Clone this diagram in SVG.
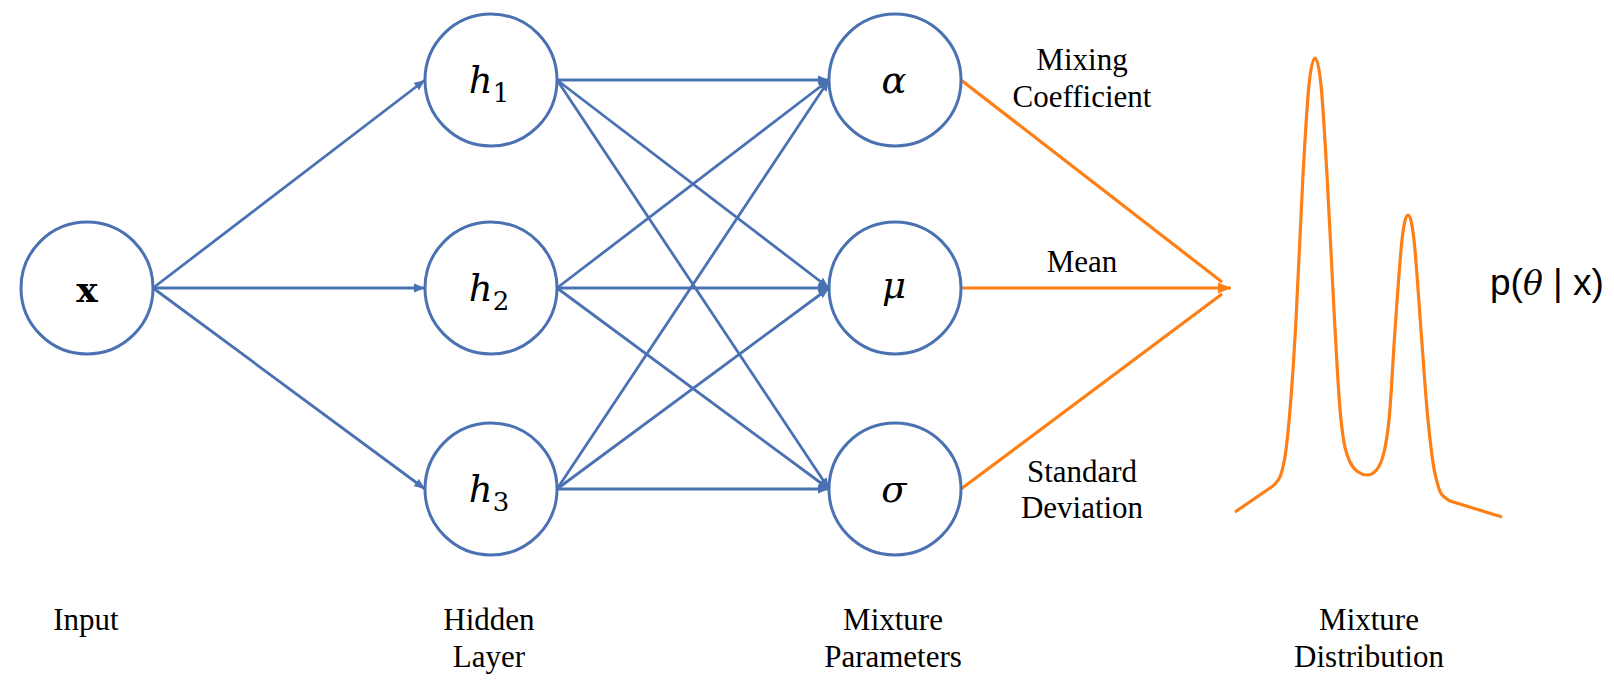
<svg xmlns="http://www.w3.org/2000/svg" width="1614" height="683" viewBox="0 0 1614 683">
<style>
.node{fill:#fff;stroke:#4a72b2;stroke-width:3}
.b{stroke:#4a72b2;stroke-width:2.8;fill:none}
.o{stroke:#fd7f16;stroke-width:3.2;fill:none}
.lab{font-family:"Liberation Serif","Times New Roman",serif;font-size:31px;fill:#000;text-anchor:middle}
.math{font-family:"DejaVu Serif","Liberation Serif",serif;font-style:italic;font-size:37px;fill:#000;text-anchor:middle}
.sub{font-style:normal;font-size:26px}
</style>
<defs>
<marker id="ab" markerUnits="userSpaceOnUse" markerWidth="12" markerHeight="10" refX="11" refY="5" orient="auto">
<path d="M0,0.5 L11,5 L0,9.5 z" fill="#4a72b2"/>
</marker>
<marker id="ao" markerUnits="userSpaceOnUse" markerWidth="14" markerHeight="12" refX="13" refY="6" orient="auto">
<path d="M0,0.5 L13,6 L0,11.5 z" fill="#fd7f16"/>
</marker>
</defs>
<rect width="1614" height="683" fill="#fff"/>
<g id="connectors">
<line class="b" x1="153" y1="288" x2="425" y2="80" marker-end="url(#ab)"/>
<line class="b" x1="153" y1="288" x2="425" y2="288" marker-end="url(#ab)"/>
<line class="b" x1="153" y1="288" x2="425" y2="489" marker-end="url(#ab)"/>
<line class="b" x1="557" y1="80" x2="829" y2="80" marker-end="url(#ab)"/>
<line class="b" x1="557" y1="80" x2="829" y2="288" marker-end="url(#ab)"/>
<line class="b" x1="557" y1="80" x2="829" y2="489" marker-end="url(#ab)"/>
<line class="b" x1="557" y1="288" x2="829" y2="80" marker-end="url(#ab)"/>
<line class="b" x1="557" y1="288" x2="829" y2="288" marker-end="url(#ab)"/>
<line class="b" x1="557" y1="288" x2="829" y2="489" marker-end="url(#ab)"/>
<line class="b" x1="557" y1="489" x2="829" y2="80" marker-end="url(#ab)"/>
<line class="b" x1="557" y1="489" x2="829" y2="288" marker-end="url(#ab)"/>
<line class="b" x1="557" y1="489" x2="829" y2="489" marker-end="url(#ab)"/>
<line class="o" x1="961" y1="80" x2="1222" y2="282"/>
<line class="o" x1="961" y1="288" x2="1231" y2="288" marker-end="url(#ao)"/>
<line class="o" x1="961" y1="489" x2="1222" y2="294"/>
</g>
<g id="node-x">
<circle class="node" cx="87" cy="288" r="66"/>
<text x="87" y="302" style="font-family:'DejaVu Serif',serif;font-weight:bold;font-size:36px;text-anchor:middle">x</text>
</g>
<g id="node-h1">
<circle class="node" cx="491" cy="80" r="66"/>
<text class="math" x="489" y="93">h<tspan class="sub" dy="9">1</tspan></text>
</g>
<g id="node-h2">
<circle class="node" cx="491" cy="288" r="66"/>
<text class="math" x="489" y="301">h<tspan class="sub" dy="9">2</tspan></text>
</g>
<g id="node-h3">
<circle class="node" cx="491" cy="489" r="66"/>
<text class="math" x="489" y="502">h<tspan class="sub" dy="9">3</tspan></text>
</g>
<g id="node-alpha">
<circle class="node" cx="895" cy="80" r="66"/>
<text class="math" x="894" y="93">α</text>
</g>
<g id="node-mu">
<circle class="node" cx="895" cy="288" r="66"/>
<text class="math" x="894" y="298">μ</text>
</g>
<g id="node-sigma">
<circle class="node" cx="895" cy="489" r="66"/>
<text class="math" x="894" y="502">σ</text>
</g>
<g id="param-labels">
<text class="lab" x="1082" y="70">Mixing</text>
<text class="lab" x="1082" y="107">Coefficient</text>
<text class="lab" x="1082" y="272">Mean</text>
<text class="lab" x="1082" y="482">Standard</text>
<text class="lab" x="1082" y="518">Deviation</text>
</g>
<g id="distribution">
<path class="o" stroke-linejoin="round" d="M1235,512 L1273,486 C1281.2,477.7 1281.2,474.7 1284,462 C1286.8,449.3 1288,433.7 1290,410 C1292,386.3 1293.8,359.2 1296,320 C1298.2,280.8 1300.8,214.2 1303,175 C1305.2,135.8 1307,104.5 1309,85 C1311,65.5 1313,58 1315,58 C1317,58 1319,65.5 1321,85 C1323,104.5 1324.8,137.5 1327,175 C1329.2,212.5 1331.7,269.2 1334,310 C1336.3,350.8 1338.3,394.7 1341,420 C1343.7,445.3 1345.7,452.8 1350,462 C1354.3,471.2 1361.8,475 1367,475 C1372.2,475 1377.3,471.2 1381,462 C1384.7,452.8 1386.7,442 1389,420 C1391.3,398 1392.8,360 1395,330 C1397.2,300 1399.8,259.2 1402,240 C1404.2,220.8 1406,215 1408,215 C1410,215 1411.8,220.8 1414,240 C1416.2,259.2 1418.7,300 1421,330 C1423.3,360 1425.5,395.3 1428,420 C1430.5,444.7 1432.3,464.5 1436,478 C1439.7,491.5 1439,494.5 1450,501 L1502,517"/>
<text x="1490" y="295" style="font-family:'Liberation Sans',Arial,sans-serif;font-size:37px">p(<tspan style="font-family:'DejaVu Serif',serif;font-style:italic;font-size:33px">θ</tspan> | x)</text>
</g>
<g id="layer-labels">
<text class="lab" x="86" y="630">Input</text>
<text class="lab" x="489" y="630">Hidden</text>
<text class="lab" x="489" y="667">Layer</text>
<text class="lab" x="893" y="630">Mixture</text>
<text class="lab" x="893" y="667">Parameters</text>
<text class="lab" x="1369" y="630">Mixture</text>
<text class="lab" x="1369" y="667">Distribution</text>
</g>
</svg>
